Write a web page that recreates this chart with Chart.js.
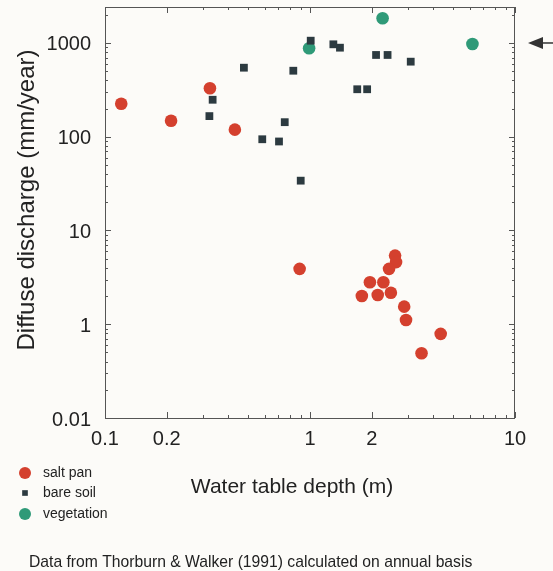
<!DOCTYPE html>
<html>
<head>
<meta charset="utf-8">
<title>Diffuse discharge vs water table depth</title>
<script src="https://cdn.jsdelivr.net/npm/chart.js@4.4.1/dist/chart.umd.min.js"></script>
<style>
    html, body { margin: 0; padding: 0; background: #fcfbf8; }
    #chart { display: block; }
</style>
</head>
<body>
<canvas id="chart" width="553" height="571"></canvas>
<script>
/* ---------- data (depth in m, discharge in mm/year) ---------- */

const saltPanX = [0.12, 0.21, 0.325, 0.43, 0.89, 2.6, 2.63, 2.43, 1.96, 2.28, 1.79, 2.14, 2.48, 2.88, 2.94, 4.34, 3.5];
const saltPanY = [225, 148, 329, 119, 3.9, 5.4, 4.6, 3.9, 2.8, 2.8, 2.0, 2.05, 2.17, 1.54, 1.11, 0.79, 0.49];

const bareSoilX = [0.323, 0.335, 0.476, 0.585, 0.706, 0.753, 0.829, 0.901, 1.008, 1.30, 1.40, 1.70, 1.90, 2.10, 2.39, 3.10];
const bareSoilY = [166, 248, 545, 94, 89, 143, 506, 34, 1058, 968, 891, 321, 321, 745, 745, 632];

const vegetationX = [0.99, 2.26, 6.2];
const vegetationY = [878, 1834, 975];

const xTickValues = [0.1, 0.2, 1, 2, 10];
const xTickLabels = ["0.1", "0.2", "1", "2", "10"];
const yTickValues = [0.1, 1, 10, 100, 1000];
const yTickLabels = ["0.01", "1", "10", "100", "1000"];

const seriesNames = ["salt pan", "bare soil", "vegetation"];

const xTitle = "Water table depth (m)";
const yTitle = "Diffuse discharge (mm/year)";
const footNote = "Data from Thorburn & Walker (1991) calculated on annual basis";

/* ---------- helpers ---------- */

const FONT = "'Liberation Sans', Arial, Helvetica, sans-serif";
const INK = "#222";
const AXIS = "#555";

function toPoints(xs, ys) {
    return xs.map((x, i) => ({ x: x, y: ys[i] }));
}

// every 1..9 x 10^n value between min and max, for the log tick marks
function logMarks(min, max) {
    const out = [];
    const lo = Math.floor(Math.log10(min));
    const hi = Math.ceil(Math.log10(max));
    for (let e = lo; e <= hi; e++) {
        for (let k = 1; k <= 9; k++) {
            const v = k * Math.pow(10, e);
            if (v >= min * 0.999 && v <= max * 1.001) out.push({ v: v, k: k });
        }
    }
    return out;
}

/* ---------- frame, inward ticks, titles, legend, note ---------- */

const decorPlugin = {
    id: "decor",
    beforeDraw(chart) {
        const c = chart.ctx;
        c.save();
        c.fillStyle = "#fcfbf8";
        c.fillRect(0, 0, chart.width, chart.height);
        c.restore();
    },
    afterDraw(chart) {
        const c = chart.ctx;
        const a = chart.chartArea;
        const xs = chart.scales.x;
        const ys = chart.scales.y;

        c.save();
        c.strokeStyle = AXIS;
        c.lineWidth = 1;
        c.strokeRect(a.left + 0.5, a.top + 0.5, a.right - a.left - 1, a.bottom - a.top);

        // x tick marks, bottom and top, pointing inwards
        c.beginPath();
        logMarks(xs.min, xs.max).forEach(m => {
            const px = Math.round(xs.getPixelForValue(m.v)) + 0.5;
            const len = (m.k === 1 || m.k === 2) ? 6 : 3;
            c.moveTo(px, a.bottom);
            c.lineTo(px, a.bottom - len);
            c.moveTo(px, a.top);
            c.lineTo(px, a.top + len);
        });
        // y tick marks, left and right
        logMarks(ys.min, ys.max).forEach(m => {
            const py = Math.round(ys.getPixelForValue(m.v)) + 0.5;
            const len = m.k === 1 ? 6 : 3;
            c.moveTo(a.left, py);
            c.lineTo(a.left + len, py);
            c.moveTo(a.right, py);
            c.lineTo(a.right - len, py);
        });
        c.stroke();

        // arrow marking the 1000 mm/year level
        const ay = ys.getPixelForValue(1000);
        c.fillStyle = "#333";
        c.strokeStyle = "#333";
        c.beginPath();
        c.moveTo(a.right + 13, ay);
        c.lineTo(a.right + 28, ay - 6);
        c.lineTo(a.right + 28, ay + 6);
        c.closePath();
        c.fill();
        c.lineWidth = 1.5;
        c.beginPath();
        c.moveTo(a.right + 27, ay);
        c.lineTo(chart.width, ay);
        c.stroke();

        // axis titles
        c.fillStyle = INK;
        c.textAlign = "center";
        c.textBaseline = "middle";
        c.font = "21px " + FONT;
        c.fillText(xTitle, 292, 487);

        c.save();
        c.translate(27, 200);
        c.rotate(-Math.PI / 2);
        c.font = "24px " + FONT;
        c.fillText(yTitle, 0, 0);
        c.restore();

        // legend, stacked under the y axis
        c.font = "14px " + FONT;
        c.textAlign = "left";
        const rows = [473, 493, 514];
        chart.data.datasets.forEach((ds, i) => {
            c.fillStyle = ds.backgroundColor;
            c.strokeStyle = ds.backgroundColor;
            Chart.helpers.drawPoint(c, {
                pointStyle: ds.pointStyle,
                radius: ds.pointStyle === "rect" ? 4 : 6,
                borderWidth: 0,
                rotation: 0
            }, 25, rows[i]);
            c.fillStyle = INK;
            c.fillText(ds.label, 43, rows[i]);
        });

        // source note
        c.font = "15.7px " + FONT;
        c.fillText(footNote, 29, 563);
        c.restore();
    }
};

/* ---------- chart ---------- */

new Chart(document.getElementById("chart"), {
    type: "scatter",
    data: {
        datasets: [
            {
                label: seriesNames[0],
                data: toPoints(saltPanX, saltPanY),
                backgroundColor: "#d4402e",
                borderWidth: 0,
                pointStyle: "circle",
                pointRadius: 6.3
            },
            {
                label: seriesNames[1],
                data: toPoints(bareSoilX, bareSoilY),
                backgroundColor: "#2c3a40",
                borderWidth: 0,
                pointStyle: "rect",
                pointRadius: 5.5
            },
            {
                label: seriesNames[2],
                data: toPoints(vegetationX, vegetationY),
                backgroundColor: "#2f9a78",
                borderWidth: 0,
                pointStyle: "circle",
                pointRadius: 6.3
            }
        ]
    },
    options: {
        responsive: false,
        animation: false,
        devicePixelRatio: 1,
        layout: { padding: { left: 0, top: 7, right: 38, bottom: 0 } },
        plugins: {
            legend: { display: false },
            tooltip: { enabled: false }
        },
        scales: {
            x: {
                type: "logarithmic",
                min: 0.1,
                max: 10,
                grid: { display: false, drawTicks: false },
                border: { display: false },
                ticks: {
                    padding: 9,
                    color: INK,
                    font: { family: FONT, size: 20 },
                    maxRotation: 0,
                    autoSkip: false,
                    callback: (v) => xTickLabels[xTickValues.indexOf(v)]
                },
                afterBuildTicks: (s) => { s.ticks = xTickValues.map(v => ({ value: v })); },
                afterFit: (s) => { s.height = 153; s.paddingLeft = 0; s.paddingRight = 0; }
            },
            y: {
                type: "logarithmic",
                min: 0.1,
                max: 2420,
                grid: { display: false, drawTicks: false },
                border: { display: false },
                ticks: {
                    padding: 14,
                    labelOffset: 2,
                    color: INK,
                    font: { family: FONT, size: 20 },
                    autoSkip: false,
                    callback: (v) => yTickLabels[yTickValues.indexOf(v)]
                },
                afterBuildTicks: (s) => { s.ticks = yTickValues.map(v => ({ value: v })); },
                afterFit: (s) => { s.width = 105; s.paddingTop = 0; s.paddingBottom = 0; }
            }
        }
    },
    plugins: [decorPlugin]
});
</script>
</body>
</html>
